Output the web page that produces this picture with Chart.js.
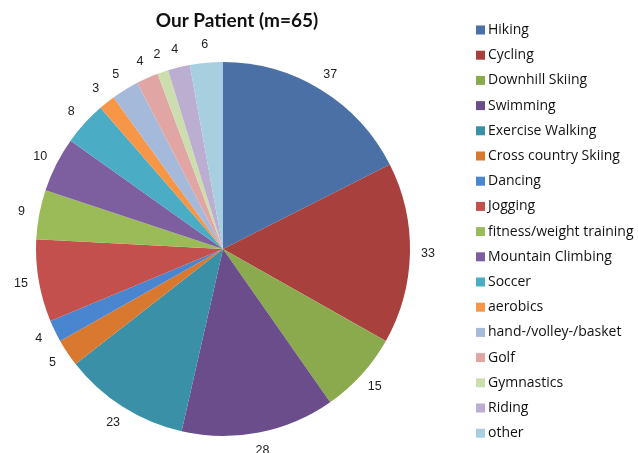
<!DOCTYPE html>
<html><head><meta charset="utf-8">
<script src="https://cdn.jsdelivr.net/npm/chart.js@4"></script>
<style>html,body{margin:0;padding:0;background:#fff}#wrap{width:638px;height:453px;position:relative}</style>
</head><body><div id="wrap"><canvas id="c" width="638" height="453"></canvas></div>
<script>
const titleText = "Our Patient (m=65)";
const categories = ["Hiking","Cycling","Downhill Skiing","Swimming","Exercise Walking","Cross country Skiing","Dancing","Jogging","fitness/weight training","Mountain Climbing","Soccer","aerobics","hand-/volley-/basket","Golf","Gymnastics","Riding","other"];
const values = [37,33,15,28,23,5,4,15,9,10,8,3,5,4,2,4,6];
const colors = ["#4A70A5","#A8403D","#8BAA4E","#6B4D8C","#3A91A7","#D9782F","#4A85D0","#C4504D","#9BBB59","#7D5FA0","#4BACC6","#F79646","#A5B9DA","#E1A5A4","#CCDDAE","#BBAED1","#A8CFE0"];

const deco = {
  id: 'deco',
  afterDraw(chart) {
    const ctx = chart.ctx;
    ctx.save();
    // title
    ctx.fillStyle = '#111';
    ctx.font = 'bold 19px Lato';
    ctx.textAlign = 'center';
    ctx.textBaseline = 'middle';
    ctx.fillText(titleText, 237, 21);
    // data labels
    ctx.font = '12.5px "Liberation Sans"';
    ctx.fillStyle = '#222';
    const meta = chart.getDatasetMeta(0);
    meta.data.forEach((arc, i) => {
      const p = arc.getProps(['x','y','startAngle','endAngle','outerRadius'], true);
      const a = (p.startAngle + p.endAngle) / 2;
      const r = p.outerRadius + 18;
      ctx.fillText(String(chart.data.datasets[0].data[i]), p.x + Math.cos(a) * r, p.y + Math.sin(a) * r);
    });
    // legend
    ctx.textAlign = 'left';
    ctx.font = '14px "Open Sans"';
    chart.data.labels.forEach((lab, i) => {
      const y = 30 + i * 25.2;
      ctx.fillStyle = chart.data.datasets[0].backgroundColor[i];
      ctx.fillRect(476, y - 4.5, 9, 9);
      ctx.fillStyle = '#111';
      ctx.fillText(lab, 488, y);
    });
    ctx.restore();
  }
};

new Chart(document.getElementById('c'), {
  type: 'pie',
  data: { labels: categories, datasets: [{ data: values, backgroundColor: colors, borderWidth: 0 }] },
  options: {
    responsive: false,
    animation: false,
    layout: { padding: { left: 36, right: 228, top: 62, bottom: 17 } },
    plugins: { legend: { display: false }, title: { display: false }, tooltip: { enabled: false } }
  },
  plugins: [deco]
});
</script></body></html>
